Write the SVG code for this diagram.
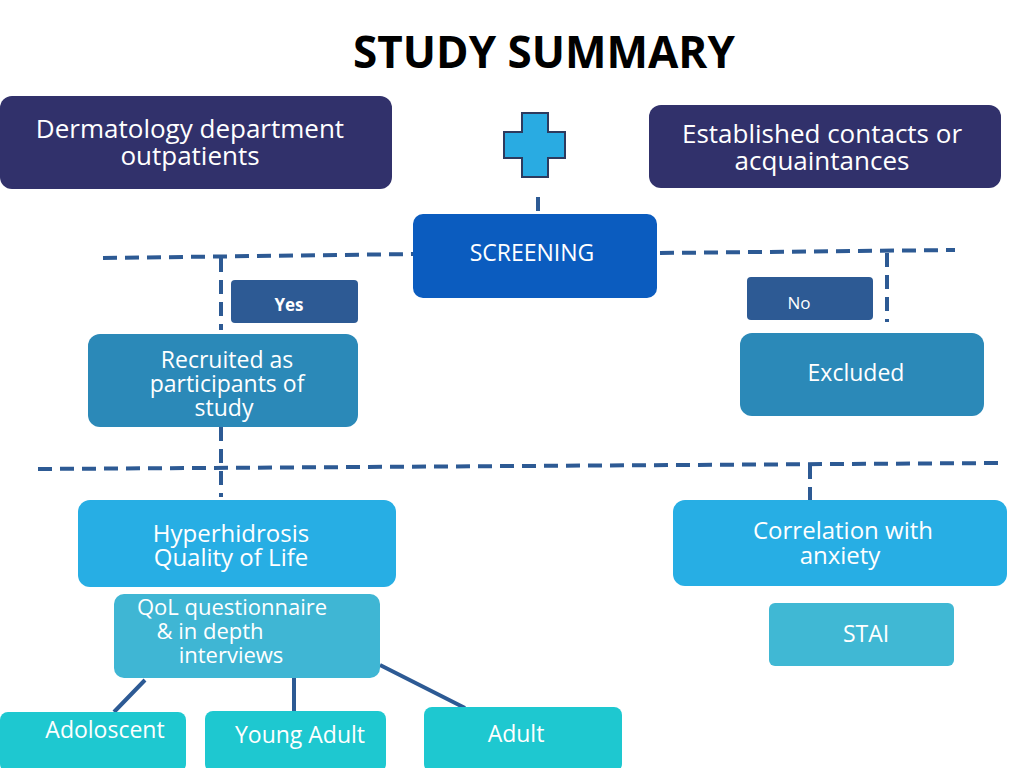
<svg xmlns="http://www.w3.org/2000/svg" width="1024" height="768" viewBox="0 0 1024 768">
<style>
text{font-family:"Open Sans","Liberation Sans",sans-serif;fill:#fff;text-anchor:middle}
.dash{stroke:#2d5a94;stroke-width:4;stroke-dasharray:14,8;fill:none}
.solid{stroke:#2d5a94;stroke-width:4;fill:none}
</style>
<rect width="1024" height="768" fill="#fff"/>
<text x="544" y="68" style="fill:#000;font-weight:bold;font-size:44px">STUDY SUMMARY</text>
<g id="connectors">
<path class="dash" d="M538 197V213"/>
<path class="dash" d="M103 258L413 254"/>
<path class="dash" d="M660 253L955 250"/>
<path class="dash" d="M221 258V330"/>
<path class="dash" d="M887 253V322"/>
<path class="dash" d="M38 469L1000 463"/>
<path class="dash" d="M221 427V497"/>
<path class="dash" d="M810 465V500"/>
<path class="solid" d="M145 680L114 712M294 678V712M380 665L465 708"/>
</g>
<g id="derm"><rect x="0" y="96" width="392" height="93" rx="12" fill="#31316b"/><text x="190" y="138" font-size="26">Dermatology department</text><text x="190" y="165" font-size="26">outpatients</text></g>
<g id="cross"><path d="M522 113H548V132H565V158H548V177H522V158H504V132H522Z" fill="#29abe2" stroke="#2d3a5e" stroke-width="2"/></g>
<g id="contacts"><rect x="649" y="105" width="352" height="83" rx="12" fill="#31316b"/><text x="822" y="143" font-size="26">Established contacts or</text><text x="822" y="170" font-size="26">acquaintances</text></g>
<g id="screening"><rect x="413" y="214" width="244" height="84" rx="10" fill="#0b5cbf"/><text x="532" y="261" font-size="23">SCREENING</text></g>
<g id="yes"><rect x="231" y="280" width="127" height="43" rx="4" fill="#2d5a94"/><text x="289" y="311" font-size="17" font-weight="bold">Yes</text></g>
<g id="no"><rect x="747" y="277" width="126" height="43" rx="4" fill="#2d5a94"/><text x="799" y="309" font-size="17">No</text></g>
<g id="recruited"><rect x="88" y="334" width="270" height="93" rx="12" fill="#2b89b8"/><text x="227" y="368" font-size="23">Recruited as</text><text x="227" y="392" font-size="23">participants of</text><text x="224" y="416" font-size="23">study</text></g>
<g id="excluded"><rect x="740" y="333" width="244" height="83" rx="12" fill="#2b89b8"/><text x="856" y="381" font-size="23">Excluded</text></g>
<g id="hyper"><rect x="78" y="500" width="318" height="87" rx="12" fill="#27aee4"/><text x="231" y="542" font-size="24">Hyperhidrosis</text><text x="231" y="566" font-size="24">Quality of Life</text></g>
<g id="corr"><rect x="673" y="500" width="334" height="86" rx="12" fill="#27aee4"/><text x="843" y="539" font-size="24">Correlation with</text><text x="840" y="564" font-size="24">anxiety</text></g>
<g id="qol"><rect x="114" y="594" width="266" height="84" rx="10" fill="#3fb6d4"/><text x="232" y="615" font-size="22">QoL questionnaire</text><text x="210" y="639" font-size="22">&amp; in depth</text><text x="231" y="663" font-size="22">interviews</text></g>
<g id="stai"><rect x="769" y="603" width="185" height="63" rx="6" fill="#40b8d4"/><text x="866" y="642" font-size="23">STAI</text></g>
<g id="adol"><rect x="0" y="712" width="186" height="60" rx="8" fill="#1ec8d0"/><text x="105" y="738" font-size="23">Adoloscent</text></g>
<g id="young"><rect x="205" y="711" width="181" height="61" rx="8" fill="#1ec8d0"/><text x="300" y="743" font-size="23">Young Adult</text></g>
<g id="adult"><rect x="424" y="707" width="198" height="65" rx="8" fill="#1ec8d0"/><text x="516" y="742" font-size="23">Adult</text></g>
</svg>
